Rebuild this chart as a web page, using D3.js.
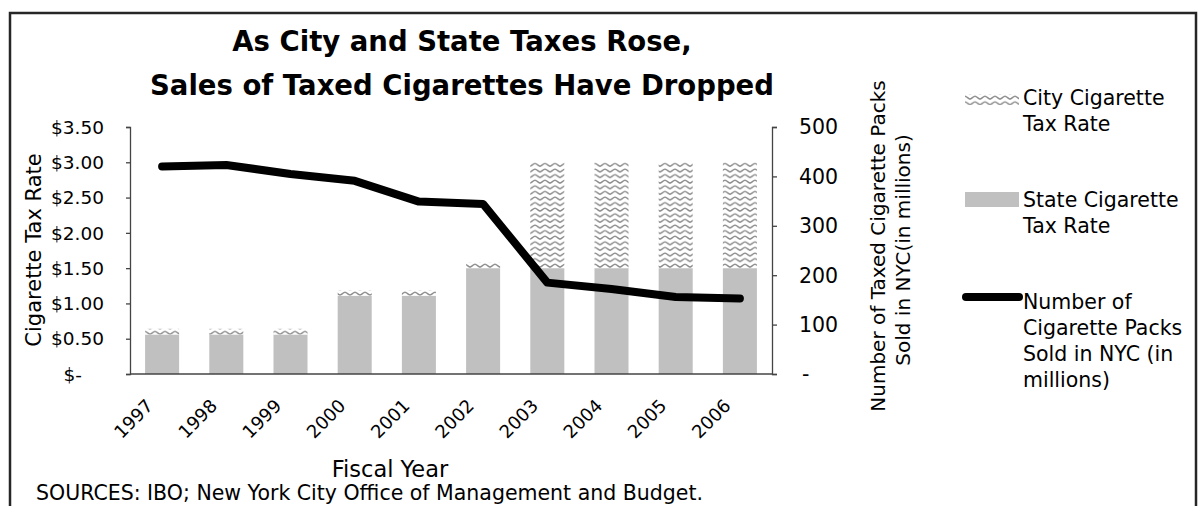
<!DOCTYPE html>
<html>
<head>
<meta charset="utf-8">
<script src="https://cdn.jsdelivr.net/npm/d3@7"></script>
<style>
  body { margin: 0; background: #fff; }
  text { font-family: "DejaVu Sans", sans-serif; fill: #000; }
</style>
</head>
<body>
<div id="chart"></div>
<script>
// data
var years = ["1997", "1998", "1999", "2000", "2001", "2002", "2003", "2004", "2005", "2006"];
var stateTax = [0.56, 0.56, 0.56, 1.11, 1.11, 1.50, 1.50, 1.50, 1.50, 1.50];
var cityTax = [0.08, 0.08, 0.08, 0.08, 0.08, 0.08, 1.50, 1.50, 1.50, 1.50];
var packsSold = [420, 423, 405, 391, 349, 344, 185, 172, 156, 153];
var leftTicks = [0, 0.5, 1, 1.5, 2, 2.5, 3, 3.5];
var rightTicks = [0, 100, 200, 300, 400, 500];

var width = 1201, height = 506;
var margin = { left: 130, right: 772, top: 127, bottom: 374 };

var svg = d3.select("#chart").append("svg")
    .attr("width", width)
    .attr("height", height);

// wavy pattern for city tax
var defs = svg.append("defs");
var pat = defs.append("pattern")
    .attr("id", "waves")
    .attr("patternUnits", "userSpaceOnUse")
    .attr("width", 10)
    .attr("height", 5.6);
pat.append("rect").attr("width", 10).attr("height", 5.6).attr("fill", "#fff");
pat.append("path")
    .attr("d", "M0,3.8 C1.5,3.8 3,1.2 5,1.2 C7,1.2 8.5,3.8 10,3.8")
    .attr("fill", "none")
    .attr("stroke", "#8a8a8a")
    .attr("stroke-width", 1.5);

// outer frame
svg.append("rect")
    .attr("x", 10).attr("y", 13)
    .attr("width", 1186).attr("height", 520)
    .attr("fill", "none")
    .attr("stroke", "#262626")
    .attr("stroke-width", 2.5);

var x = d3.scaleBand().domain(years).range([margin.left, margin.right]).paddingInner(0.47).paddingOuter(0.235);
var yL = d3.scaleLinear().domain([0, 3.5]).range([margin.bottom, margin.top]);
var yR = d3.scaleLinear().domain([0, 500]).range([margin.bottom, margin.top]);

// bars
var bars = svg.append("g").attr("class", "bars");
bars.selectAll("rect.state")
    .data(years)
    .enter().append("rect")
    .attr("class", "state")
    .attr("x", function(d) { return x(d); })
    .attr("width", x.bandwidth())
    .attr("y", function(d, i) { return yL(stateTax[i]); })
    .attr("height", function(d, i) { return yL(0) - yL(stateTax[i]); })
    .attr("fill", "#c0c0c0");

bars.selectAll("rect.city")
    .data(years)
    .enter().append("rect")
    .attr("class", "city")
    .attr("x", function(d) { return x(d); })
    .attr("width", x.bandwidth())
    .attr("y", function(d, i) { return yL(stateTax[i] + cityTax[i]); })
    .attr("height", function(d, i) { return yL(stateTax[i]) - yL(stateTax[i] + cityTax[i]); })
    .attr("fill", "url(#waves)");

// axes
var axisColor = "#444";
var leftAxis = svg.append("g")
    .attr("transform", "translate(" + margin.left + ",0)")
    .call(d3.axisLeft(yL).tickValues(leftTicks).tickSize(4).tickFormat(""));
var rightAxis = svg.append("g")
    .attr("transform", "translate(" + margin.right + ",0)")
    .call(d3.axisRight(yR).tickValues(rightTicks).tickSize(5).tickFormat(""));
[leftAxis, rightAxis].forEach(function(a) {
  a.select(".domain").attr("stroke", axisColor).attr("stroke-width", 1.3);
  a.selectAll(".tick line").attr("stroke", axisColor).attr("stroke-width", 1.3);
});
svg.append("line")
    .attr("x1", margin.left).attr("x2", margin.right)
    .attr("y1", margin.bottom).attr("y2", margin.bottom)
    .attr("stroke", axisColor).attr("stroke-width", 1.5);

// left tick labels
svg.append("g").selectAll("text")
    .data(leftTicks)
    .enter().append("text")
    .attr("x", function(d) { return d === 0 ? 82 : 104; })
    .attr("y", function(d) { return yL(d); })
    .attr("dy", "0.36em")
    .attr("text-anchor", "end")
    .style("font-size", "18.5px")
    .text(function(d) { return d === 0 ? "$-" : "$" + d.toFixed(2); });

// right tick labels
svg.append("g").selectAll("text")
    .data(rightTicks)
    .enter().append("text")
    .attr("x", function(d) { return d === 0 ? 802 : 799; })
    .attr("y", function(d) { return yR(d); })
    .attr("dy", "0.36em")
    .style("font-size", "20.5px")
    .text(function(d) { return d === 0 ? "-" : d; });

// x labels
svg.append("g").selectAll("text")
    .data(years)
    .enter().append("text")
    .attr("transform", function(d) {
      return "translate(" + (x(d) + x.bandwidth() / 2 - 8) + ",407) rotate(-45)";
    })
    .attr("text-anchor", "end")
    .style("font-size", "18px")
    .text(function(d) { return d; });

// line
var line = d3.line()
    .x(function(d, i) { return x(years[i]) + x.bandwidth() / 2; })
    .y(function(d) { return yR(d); });
svg.append("path")
    .datum(packsSold)
    .attr("d", line)
    .attr("fill", "none")
    .attr("stroke", "#000")
    .attr("stroke-width", 8)
    .attr("stroke-linecap", "round")
    .attr("stroke-linejoin", "round");

// titles
svg.append("text")
    .attr("x", 462).attr("y", 51)
    .attr("text-anchor", "middle")
    .style("font-size", "27.5px").style("font-weight", "bold")
    .text("As City and State Taxes Rose,");
svg.append("text")
    .attr("x", 462).attr("y", 95)
    .attr("text-anchor", "middle")
    .style("font-size", "27.5px").style("font-weight", "bold")
    .text("Sales of Taxed Cigarettes Have Dropped");

svg.append("text")
    .attr("transform", "translate(41,250) rotate(-90)")
    .attr("text-anchor", "middle")
    .style("font-size", "21px")
    .text("Cigarette Tax Rate");

svg.append("text")
    .attr("transform", "translate(885,246) rotate(-90)")
    .attr("text-anchor", "middle")
    .style("font-size", "20px")
    .text("Number of Taxed Cigarette Packs");
svg.append("text")
    .attr("transform", "translate(910,250) rotate(-90)")
    .attr("text-anchor", "middle")
    .style("font-size", "20px")
    .text("Sold in NYC(in millions)");

svg.append("text")
    .attr("x", 390).attr("y", 477)
    .attr("text-anchor", "middle")
    .style("font-size", "22.5px")
    .text("Fiscal Year");

svg.append("text")
    .attr("x", 36).attr("y", 500)
    .style("font-size", "20.5px")
    .text("SOURCES: IBO; New York City Office of Management and Budget.");

// legend
var legend = svg.append("g");
legend.append("rect")
    .attr("x", 965).attr("y", 94).attr("width", 54).attr("height", 11)
    .attr("fill", "url(#waves)");
legend.append("rect")
    .attr("x", 965).attr("y", 192).attr("width", 54).attr("height", 15)
    .attr("fill", "#c0c0c0");
legend.append("line")
    .attr("x1", 966).attr("x2", 1019).attr("y1", 297).attr("y2", 297)
    .attr("stroke", "#000").attr("stroke-width", 8).attr("stroke-linecap", "round");

var legendText = [
  { y: 98, t: "City Cigarette" }, { y: 124, t: "Tax Rate" },
  { y: 200, t: "State Cigarette" }, { y: 226, t: "Tax Rate" },
  { y: 302, t: "Number of" }, { y: 328, t: "Cigarette Packs" },
  { y: 354, t: "Sold in NYC (in" }, { y: 380, t: "millions)" }
];
legend.selectAll("text.lg")
    .data(legendText)
    .enter().append("text")
    .attr("class", "lg")
    .attr("x", 1023)
    .attr("y", function(d) { return d.y; })
    .attr("dy", "0.36em")
    .style("font-size", "20.5px")
    .text(function(d) { return d.t; });
</script>
</body>
</html>
